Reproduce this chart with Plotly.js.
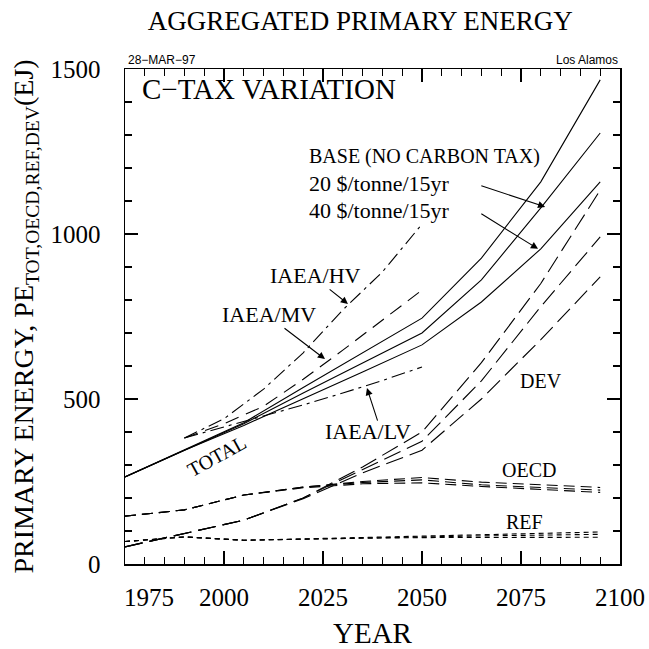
<!DOCTYPE html>
<html>
<head>
<meta charset="utf-8">
<script src="https://cdn.plot.ly/plotly-3.0.1.min.js"></script>
<style>html,body{margin:0;padding:0;background:#fff;}#chart{width:649px;height:649px;}</style>
</head>
<body>
<div id="chart"></div>
<script>
// Model years (15-year steps)
const yearsModel = [1975, 1990, 2005, 2020, 2035, 2050, 2065, 2080, 2095];
// TOTAL primary energy (EJ)
const totalBase = [264, 345, 428, 535, 640, 745, 927, 1158, 1467];
const total20   = [264, 345, 425, 518, 608, 700, 861, 1079, 1306];
const total40   = [264, 345, 420, 500, 582, 664, 794, 955, 1158];
// OECD
const oecdBase = [145, 164, 209, 233, 250, 262, 248, 240, 232];
const oecd20   = [145, 164, 209, 233, 247, 255, 240, 232, 224];
const oecd40   = [145, 164, 209, 231, 243, 246, 235, 226, 217];
// REF
const refBase = [68, 82, 72, 76, 80, 83, 87, 92, 97];
const ref20   = [68, 82, 72, 76, 79, 82, 85, 88, 90];
const ref40   = [68, 82, 72, 76, 78, 80, 80, 81, 81];
// DEV
const devBase = [52, 93, 133, 200, 294, 400, 610, 850, 1133];
const dev20   = [52, 93, 133, 200, 285, 372, 555, 780, 991];
const dev40   = [52, 93, 133, 198, 276, 345, 500, 680, 870];
// IAEA scenarios
const yearsIAEA = [1990, 2000, 2010, 2020, 2030, 2040, 2050];
const iaeaHV = [382, 440, 530, 640, 770, 885, 1030];
const iaeaMV = [382, 425, 478, 560, 648, 738, 830];
const iaeaLV = [382, 415, 448, 482, 518, 556, 597];

// Axis ticks
const xTickVals = [2000, 2025, 2050, 2075, 2100];
const xFirstLabel = '1975';
const yTickVals = [0, 500, 1000, 1500];

const SERIF = 'Liberation Serif';
const SANS = 'Liberation Sans';

function line(x, y, dash, name) {
  return {x: x, y: y, type: 'scatter', mode: 'lines', name: name,
    line: {color: '#000', width: 1.1, dash: dash}, hoverinfo: 'skip', showlegend: false};
}

const traces = [
  line(yearsModel, totalBase, 'solid', 'TOTAL base'),
  line(yearsModel, total20, 'solid', 'TOTAL 20'),
  line(yearsModel, total40, 'solid', 'TOTAL 40'),
  line(yearsModel, devBase, '18px,7px', 'DEV base'),
  line(yearsModel, dev20, '18px,7px', 'DEV 20'),
  line(yearsModel, dev40, '18px,7px', 'DEV 40'),
  line(yearsModel, oecdBase, '11px,6px', 'OECD base'),
  line(yearsModel, oecd20, '11px,6px', 'OECD 20'),
  line(yearsModel, oecd40, '11px,6px', 'OECD 40'),
  line(yearsModel, refBase, '5px,4px', 'REF base'),
  line(yearsModel, ref20, '5px,4px', 'REF 20'),
  line(yearsModel, ref40, '5px,4px', 'REF 40'),
  line(yearsIAEA, iaeaHV, '14px,5px,3px,5px', 'IAEA/HV'),
  line(yearsIAEA, iaeaMV, '14px,8px', 'IAEA/MV'),
  line(yearsIAEA, iaeaLV, '14px,5px,3px,5px', 'IAEA/LV')
];

function label(text, x, y, size, extra) {
  return Object.assign({text: text, x: x, y: y, xref: 'x', yref: 'y', showarrow: false,
    font: {family: SERIF, size: size, color: '#000'}}, extra || {});
}
function arrow(tx, ty, hx, hy) {
  return {text: '', x: hx, y: hy, ax: tx, ay: ty, xref: 'x', yref: 'y', axref: 'x', ayref: 'y',
    showarrow: true, arrowhead: 2, arrowsize: 1.3, arrowwidth: 1.1, arrowcolor: '#000', standoff: 0, startstandoff: 0};
}

const annotations = [
  {text: 'C\u2212TAX VARIATION', x: 0.03, y: 0.96, xref: 'paper', yref: 'paper', xanchor: 'left', yanchor: 'middle',
    showarrow: false, font: {family: SERIF, size: 29, color: '#000'}},
  {text: '28\u2212MAR\u221297', x: 0.075, y: 1.018, xref: 'paper', yref: 'paper', xanchor: 'center', yanchor: 'middle',
    showarrow: false, font: {family: SANS, size: 12, color: '#000'}},
  {text: 'Los Alamos', x: 1, y: 1.018, xref: 'paper', yref: 'paper', xanchor: 'right', yanchor: 'middle',
    showarrow: false, font: {family: SANS, size: 12, color: '#000'}},
  {text: xFirstLabel, x: 1981, y: -0.068, xref: 'x', yref: 'paper', xanchor: 'center', yanchor: 'middle',
    showarrow: false, font: {family: SERIF, size: 25, color: '#000'}},
  label('BASE (NO CARBON TAX)', 2021, 1236, 20, {xanchor: 'left'}),
  label('20 $/tonne/15yr', 2021, 1152, 22, {xanchor: 'left'}),
  label('40 $/tonne/15yr', 2021, 1070, 22, {xanchor: 'left'}),
  label('IAEA/HV', 2023.2, 873, 22),
  label('IAEA/MV', 2011.4, 755, 22),
  label('IAEA/LV', 2036.4, 403, 22),
  label('TOTAL', 1998.2, 327, 20, {textangle: -29}),
  label('DEV', 2080, 555, 20),
  label('OECD', 2077, 285, 20),
  label('REF', 2076, 127, 20),
  arrow(2064.6, 1148, 2081.1, 1082),
  arrow(2064.6, 1064, 2079.3, 955),
  arrow(2026.3, 836, 2031.3, 788),
  arrow(2014.9, 718, 2025.5, 621),
  arrow(2038.9, 430, 2036.1, 533)
];

const layout = {
  width: 649, height: 649,
  margin: {l: 125, r: 29, t: 69, b: 85, pad: 0},
  paper_bgcolor: '#fff', plot_bgcolor: '#fff',
  showlegend: false,
  title: {text: 'AGGREGATED PRIMARY ENERGY', x: 0.555, xref: 'container', xanchor: 'center',
    y: 0.969, yref: 'container', yanchor: 'middle', font: {family: SERIF, size: 27, color: '#000'}},
  xaxis: {
    range: [1975, 2100], tickvals: xTickVals,
    ticks: 'inside', ticklen: 13, tickwidth: 1.2, tickcolor: '#000',
    minor: {dtick: 5, tick0: 1975, ticks: 'inside', ticklen: 7, tickwidth: 1.2, tickcolor: '#000'},
    showline: true, linecolor: '#000', linewidth: 1.5, mirror: 'ticks',
    showgrid: false, zeroline: false,
    tickfont: {family: SERIF, size: 25, color: '#000'}, ticklabelstandoff: 10,
    title: {text: 'YEAR', font: {family: SERIF, size: 29, color: '#000'}, standoff: 14}
  },
  yaxis: {
    range: [0, 1500], tickvals: yTickVals,
    ticks: 'inside', ticklen: 13, tickwidth: 1.2, tickcolor: '#000',
    minor: {dtick: 100, ticks: 'inside', ticklen: 7, tickwidth: 1.2, tickcolor: '#000'},
    showline: true, linecolor: '#000', linewidth: 1.5, mirror: 'ticks',
    showgrid: false, zeroline: false,
    tickfont: {family: SERIF, size: 25, color: '#000'}, ticklabelstandoff: 18,
    title: {text: 'PRIMARY ENERGY, PE<sub>TOT,OECD,REF,DEV</sub>(EJ)', font: {family: SERIF, size: 28, color: '#000'}, standoff: 8}
  },
  annotations: annotations
};

Plotly.newPlot('chart', traces, layout, {staticPlot: true, displayModeBar: false});
</script>
</body>
</html>
